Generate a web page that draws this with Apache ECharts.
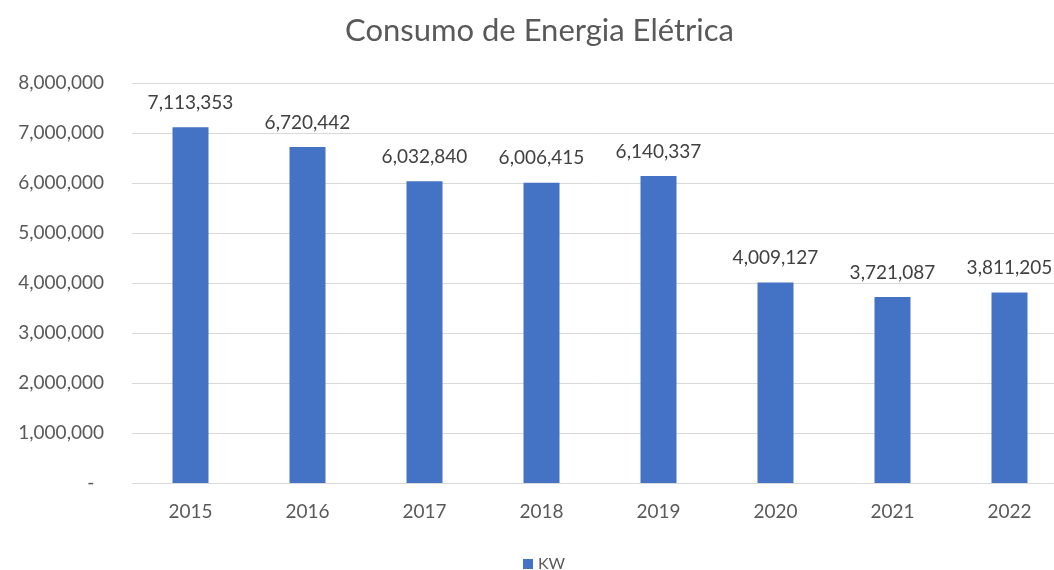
<!DOCTYPE html>
<html>
<head>
<meta charset="utf-8">
<script src="https://cdn.jsdelivr.net/npm/echarts@6/dist/echarts.min.js"></script>
<style>
  html, body { margin: 0; padding: 0; background: #ffffff; }
  #chart { width: 1054px; height: 570px; }
</style>
</head>
<body>
<div id="chart"></div>
<script>
// Annual electricity consumption (KW)
const years = ['2015', '2016', '2017', '2018', '2019', '2020', '2021', '2022'];
const consumoKW = [7113353, 6720442, 6032840, 6006415, 6140337, 4009127, 3721087, 3811205];
const seriesName = 'KW';
const chartTitle = 'Consumo de Energia Elétrica';

const FONT = 'Lato, "Open Sans", sans-serif';

function withCommas(v) {
  return String(Math.round(v)).replace(/\B(?=(\d{3})+(?!\d))/g, ',');
}

const chart = echarts.init(document.getElementById('chart'), null, { renderer: 'canvas' });

chart.setOption({
  animation: false,
  backgroundColor: '#ffffff',
  title: {
    text: chartTitle,
    left: 345,
    top: 15,
    padding: 0,
    textStyle: { fontFamily: FONT, fontSize: 31, fontWeight: 'normal', color: '#595959' }
  },
  legend: {
    data: [seriesName],
    left: 523,
    top: 556,
    padding: 0,
    itemWidth: 10,
    itemHeight: 10,
    icon: 'rect',
    textStyle: { fontFamily: FONT, fontSize: 16, color: '#595959' }
  },
  grid: {
    left: 132,
    top: 83,
    width: 936,
    height: 400,
    containLabel: false,
    outerBoundsMode: 'none'
  },
  xAxis: {
    type: 'category',
    data: years,
    axisLine: { show: true, lineStyle: { color: '#d9d9d9', width: 1 } },
    axisTick: { show: false },
    axisLabel: { fontFamily: FONT, fontSize: 19, color: '#595959', margin: 19 }
  },
  yAxis: {
    type: 'value',
    min: 0,
    max: 8000000,
    interval: 1000000,
    axisLine: { show: false },
    axisTick: { show: false },
    splitLine: { show: true, lineStyle: { color: '#d9d9d9', width: 1 } },
    axisLabel: {
      fontFamily: FONT,
      fontSize: 19,
      color: '#595959',
      margin: 28,
      formatter: function (v) { return v === 0 ? '-  ' : withCommas(v); }
    }
  },
  series: [{
    name: seriesName,
    type: 'bar',
    data: consumoKW,
    barWidth: 36,
    itemStyle: { color: '#4472C4' },
    label: {
      show: true,
      position: 'top',
      distance: 15,
      fontFamily: FONT,
      fontSize: 19,
      color: '#404040',
      formatter: function (p) { return withCommas(p.value); }
    }
  }]
});
</script>
</body>
</html>
